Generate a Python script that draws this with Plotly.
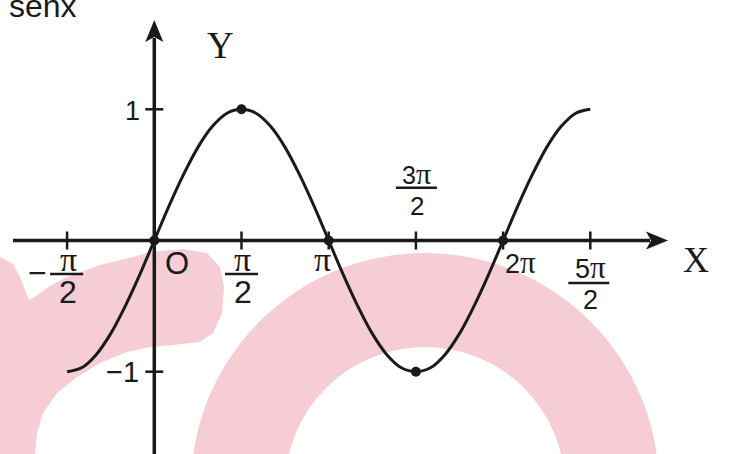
import plotly.graph_objects as go

# ---- data (angle in degrees, value of sen x) ----
angle_deg = [-90, -75, -60, -45, -30, -15, 0, 15, 30, 45, 60, 75, 90, 105, 120, 135, 150, 165, 180,
             195, 210, 225, 240, 255, 270, 285, 300, 315, 330, 345, 360, 375, 390, 405, 420, 435, 450]
senx = [-1, -0.97, -0.87, -0.71, -0.5, -0.26, 0, 0.26, 0.5, 0.71, 0.87, 0.97, 1, 0.97, 0.87, 0.71, 0.5, 0.26, 0,
        -0.26, -0.5, -0.71, -0.87, -0.97, -1, -0.97, -0.87, -0.71, -0.5, -0.26, 0, 0.26, 0.5, 0.71, 0.87, 0.97, 1]
key_x = [0, 90, 180, 270, 360]
key_y = [0, 1, 0, -1, 0]
x_ticks = [-90, 90, 180, 270, 360, 450]
y_ticks = [1, -1]

W, H = 734, 454
ORIGIN_PX, ORIGIN_PY = 154.3, 240.5
PX_PER_DEG = 87.2 / 90
PX_PER_UNIT = 131.2
xr = [-ORIGIN_PX / PX_PER_DEG, (W - ORIGIN_PX) / PX_PER_DEG]
yr = [(ORIGIN_PY - H) / PX_PER_UNIT, ORIGIN_PY / PX_PER_UNIT]

INK = "#1a1a1a"
PINK = "#f6cdd4"
SANS = "Liberation Sans"
SERIF = "Liberation Serif"

fig = go.Figure()
fig.add_trace(go.Scatter(x=angle_deg, y=senx, mode="lines",
                         line=dict(color=INK, width=3, shape="spline", smoothing=1),
                         hoverinfo="skip", showlegend=False))
fig.add_trace(go.Scatter(x=key_x, y=key_y, mode="markers",
                         marker=dict(color=INK, size=10), hoverinfo="skip", showlegend=False))

shapes = []


def P(px, py):
    return px / W, 1 - py / H


# watermark: blob on the left
blob_px = [(0, 257), (13, 264), (20, 277), (25, 290), (29, 300), (33, 298), (50, 286), (67, 277),
           (100, 265), (133, 257), (150, 252), (183, 249), (207, 253), (220, 267), (224, 287),
           (222, 313), (213, 333), (200, 342), (173, 345), (150, 347), (127, 352), (100, 363),
           (77, 377), (57, 393), (43, 413), (37, 433), (35, 454), (0, 454)]
path = "M " + " L ".join("%.4f,%.4f" % P(a, b) for a, b in blob_px) + " Z"
shapes.append(dict(type="path", path=path, xref="paper", yref="paper", fillcolor=PINK,
                   line=dict(width=0), layer="below"))
# watermark: ring
cx, cy, R, r = 425, 487, 234, 140
for rad, col in ((R, PINK), (r, "white")):
    x0, y0 = P(cx - rad, cy + rad)
    x1, y1 = P(cx + rad, cy - rad)
    shapes.append(dict(type="circle", xref="paper", yref="paper", x0=x0, y0=y0, x1=x1, y1=y1,
                       fillcolor=col, line=dict(width=0), layer="below"))

# axes
x_start = (13 - ORIGIN_PX) / PX_PER_DEG
x_tip = (668 - ORIGIN_PX) / PX_PER_DEG
y_tip = (ORIGIN_PY - 20) / PX_PER_UNIT
shapes.append(dict(type="line", xref="x", yref="y", x0=x_start, x1=x_tip - 18 / PX_PER_DEG,
                   y0=0, y1=0, line=dict(color=INK, width=3.5)))
shapes.append(dict(type="line", xref="x", yref="y", x0=0, x1=0, y0=yr[0] - 0.1,
                   y1=y_tip - 18 / PX_PER_UNIT, line=dict(color=INK, width=3.5)))
shapes.append(dict(type="path", xref="x", yref="y", xsizemode="pixel", ysizemode="pixel",
                   xanchor=x_tip, yanchor=0, path="M0,0 L-22,9 L-17,0 L-22,-9 Z",
                   fillcolor=INK, line=dict(width=0)))
shapes.append(dict(type="path", xref="x", yref="y", xsizemode="pixel", ysizemode="pixel",
                   xanchor=0, yanchor=y_tip, path="M0,0 L9,-22 L0,-17 L-9,-22 Z",
                   fillcolor=INK, line=dict(width=0)))
for t in x_ticks:
    shapes.append(dict(type="line", xref="x", yref="y", ysizemode="pixel", yanchor=0,
                       x0=t, x1=t, y0=-9, y1=9, line=dict(color=INK, width=2.5)))
for t in y_ticks:
    shapes.append(dict(type="line", xref="x", yref="y", xsizemode="pixel", xanchor=0,
                       x0=-9, x1=9, y0=t, y1=t, line=dict(color=INK, width=2.5)))

# fraction bars (tick, left px, right px, vertical px offset)
bars = [(-90, -17, 16, -33.5), (90, -16.5, 16.5, -33.5), (270, -20, 21, 52.8), (450, -22, 19, -42.5)]
for t, a, b, dy in bars:
    shapes.append(dict(type="line", xref="x", yref="y", xsizemode="pixel", ysizemode="pixel",
                       xanchor=t, yanchor=0, x0=a, x1=b, y0=dy, y1=dy, line=dict(color=INK, width=2.5)))


def PI(size):
    return '<span style="font-family:Liberation Serif;font-size:%dpx">π</span>' % size


anns = []


def lab(x, y, text, dx, dy, size, family=SANS):
    anns.append(dict(x=x, y=y, xref="x", yref="y", text=text, showarrow=False,
                     xshift=dx, yshift=dy, font=dict(family=family, size=size, color=INK)))


# x labels
lab(-90, 0, "−", -29.6, -32.5, 32)
lab(-90, 0, "π", 1.4, -19, 34, SERIF)
lab(-90, 0, "2", 1, -51, 32)
lab(90, 0, "π", 1, -19, 34, SERIF)
lab(90, 0, "2", 1, -51, 32)
lab(180, 0, "π", -6, -18.5, 34, SERIF)
lab(0, 0, "O", 23, -22.5, 31)
lab(270, 0, "3" + PI(30), 1, 67, 25)
lab(270, 0, "2", 1.5, 34.5, 26)
lab(360, 0, "2" + PI(31), 17, -22, 27)
lab(450, 0, "5" + PI(31), 0, -27, 27)
lab(450, 0, "2", 0.5, -59.5, 27)
# y labels
lab(0, 1, "1", -22, -1.7, 27)
lab(0, -1, "−1", -32, 0, 29)

annotations = anns + [
    dict(x=7 / W, y=1 - 6 / H, xref="paper", yref="paper", xanchor="left", yanchor="middle",
         text="senx", showarrow=False, font=dict(family=SANS, size=32, color=INK)),
    dict(x=205 / W, y=1 - 22.5 / H, xref="paper", yref="paper", text="Y", showarrow=False,
         font=dict(family=SERIF, size=37, color=INK)),
    dict(x=710.5 / W, y=1 - 260 / H, xref="paper", yref="paper", text="X", showarrow=False,
         font=dict(family=SERIF, size=36, color=INK)),
]

fig.update_layout(
    width=W, height=H, margin=dict(l=0, r=0, t=0, b=0),
    paper_bgcolor="white", plot_bgcolor="white",
    xaxis=dict(range=xr, visible=False, fixedrange=True),
    yaxis=dict(range=yr, visible=False, fixedrange=True),
    shapes=shapes, annotations=annotations, showlegend=False,
)
fig.write_html("out.html", config={"displayModeBar": False},
               post_script="document.body.style.margin='0';document.body.style.overflow='hidden';")
